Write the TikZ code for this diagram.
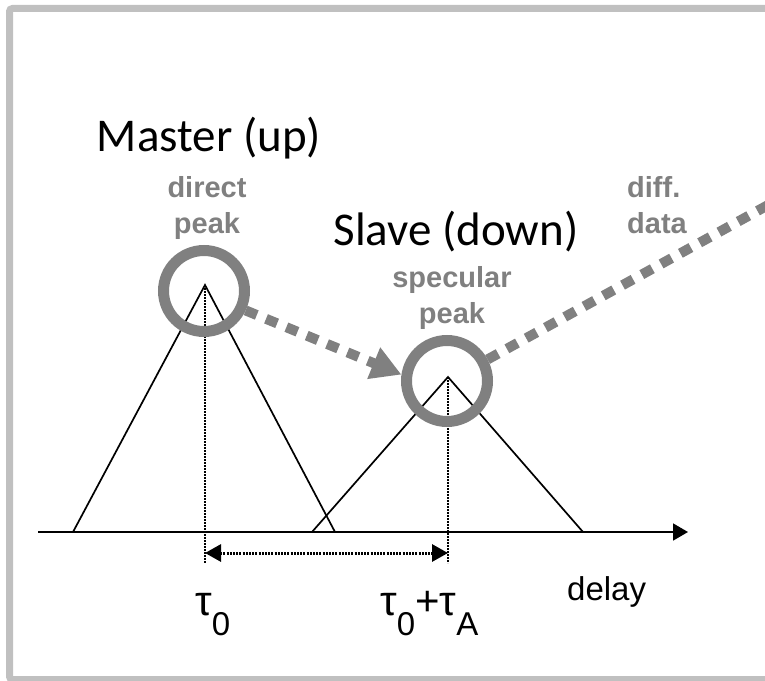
\documentclass[tikz,border=0pt]{standalone}
\usepackage{fontspec}
\setmainfont{Liberation Sans}
\newfontfamily\calibri{Carlito}
\usetikzlibrary{arrows.meta}
\definecolor{peakgray}{RGB}{128,128,128}
\definecolor{framegray}{RGB}{192,192,192}
\newcommand{\bigtau}{{\fontsize{42bp}{48bp}\selectfont τ}}
\tikzset{
  peakring/.style={circle, draw=peakgray, line width=11bp, minimum size=81bp, inner sep=0pt},
  peaklabel/.style={peakgray, font=\fontsize{29bp}{36bp}\selectfont\bfseries, inner sep=0pt},
  sidelabel/.style={font=\calibri\fontsize{47bp}{54bp}\selectfont, inner sep=0pt, anchor=base},
  axislabel/.style={font=\fontsize{33bp}{40bp}\selectfont, inner sep=0pt, anchor=base west},
  grayline/.style={peakgray, line width=10bp, dash pattern=on 12bp off 10bp},
  guide/.style={line width=1.3bp, dash pattern=on 1.5bp off 1.5bp},
}
\begin{document}
\begin{tikzpicture}[x=1bp, y=-1bp]
        \useasboundingbox (0,0) rectangle (765,681);
        \draw[framegray, line width=7bp, rounded corners=3bp] (9.5,8.5) rectangle (800,679.5);
        % delay axis
        \coordinate (axstart) at (38,532);
        \coordinate (axend) at (688,532);
        \draw[line width=1.7bp, -{Triangle[length=15bp, width=17bp]}] (axstart) -- (axend);
        % master and slave peaks
        \coordinate (mpeak) at (205,285);
        \coordinate (speak) at (448,377);
        \draw[line width=1.7bp] (73,532) -- (mpeak) -- (335,532);
        \draw[line width=1.7bp] (312,532) -- (speak) -- (583,532);
        \coordinate (mfoot) at (205,563);
        \coordinate (sfoot) at (448,563);
        \draw[guide] (mpeak) -- (mfoot);
        \draw[guide] (speak) -- (sfoot);
        \coordinate (tleft) at (205,553);
        \coordinate (tright) at (448,553);
        \draw[line width=3bp, dash pattern=on 2bp off 1.2bp,
              {Triangle[length=16bp, width=17bp]}-{Triangle[length=16bp, width=17bp]}] (tleft) -- (tright);
        % rings round the peaks
        \node[peakring] (direct) at (204,291) {};
        \node[peakring] (specular) at (447,381) {};
        \draw[grayline, -{Triangle[length=30bp, width=32bp]}] (direct.-25) -- (specular.172);
        \coordinate (diffend) at (790,193);
        \draw[grayline] (specular.28) -- (diffend);
        % labels
        \node[sidelabel] (master) at (209,152) {Master (up)};
        \node[sidelabel] (slave) at (456,245) {Slave (down)};
        \node[peaklabel, align=center, anchor=base] (directlbl) at (207,233) {direct\\peak};
        \node[peaklabel, align=center, anchor=base] (specularlbl) at (452,323) {specular\\peak};
        \node[peaklabel, align=left, anchor=base west] (difflbl) at (627,233) {diff.\\data};
        \node[axislabel] (delay) at (567,600) {delay};
        \node[axislabel] (tau0) at (195,615) {\bigtau\raisebox{-20bp}{0}};
        \node[axislabel] (tausum) at (380,615) {\bigtau\raisebox{-20bp}{0}{\fontsize{42bp}{48bp}\selectfont +}\bigtau\raisebox{-20bp}{A}};
\end{tikzpicture}
\end{document}
